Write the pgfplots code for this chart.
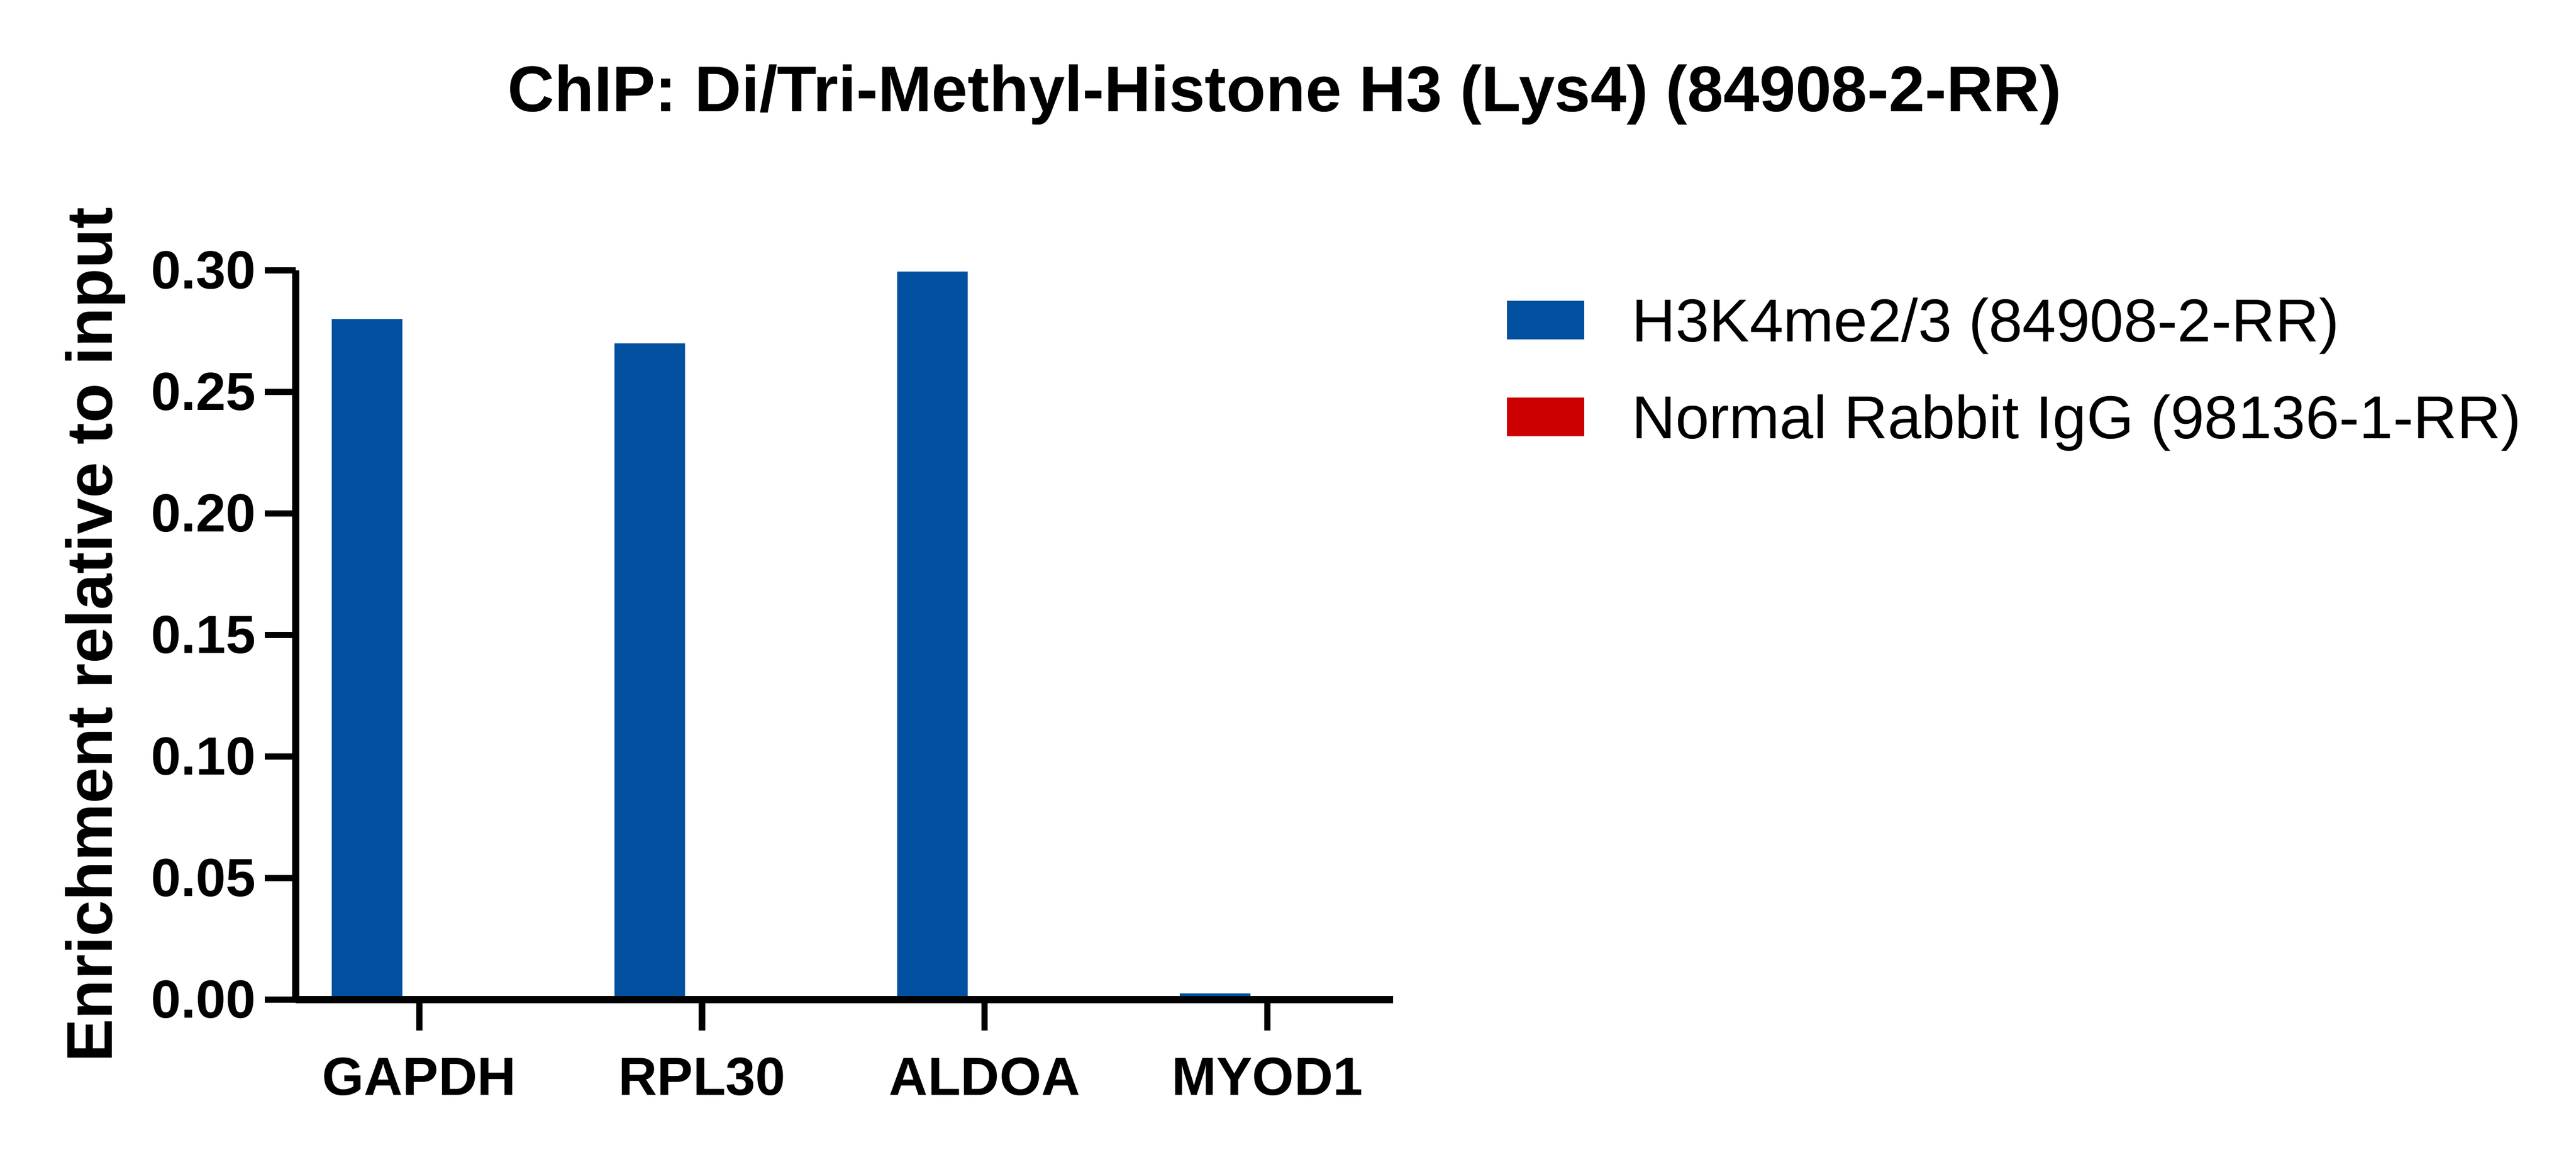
\documentclass[border=0pt]{standalone}
\usepackage{fontspec}
\setmainfont{Liberation Sans}
\usepackage{pgfplots}
\pgfplotsset{compat=1.18}

\definecolor{h3blue}{RGB}{2,80,160}
\definecolor{iggred}{RGB}{204,0,0}

\begin{document}
\begin{tikzpicture}
\useasboundingbox (0,0) rectangle (15.68cm,7.0cm);

% title, centred over the whole figure
\node[anchor=base, font=\fontsize{11.2}{13}\selectfont\bfseries]
  at (7.82cm,6.322cm) {ChIP: Di/Tri-Methyl-Histone H3 (Lys4) (84908-2-RR)};

\begin{axis}[
    at={(1.80cm,0.913cm)}, anchor=south west,
    width=6.68cm, height=4.441cm, scale only axis,
    xmin=-0.437, xmax=3.445,
    ymin=0, ymax=0.30,
    axis x line*=bottom, axis y line*=left,
    tick pos=left,
    axis line style={line width=1.2pt, black},
    tick style={line width=1.1pt, black},
    tick align=outside,
    major tick length=0.188cm,
    axis on top,
    ybar, bar width=0.43cm,
    xtick={0,1,2,3},
    xticklabels={GAPDH,RPL30,ALDOA,MYOD1},
    ytick={0,0.05,0.10,0.15,0.20,0.25,0.30},
    yticklabel={\pgfmathprintnumber[fixed,fixed zerofill,precision=2]{\tick}},
    /pgf/number format/assume math mode=true,
    ticklabel style={font=\fontsize{9.3}{11}\selectfont\bfseries},
    xticklabel style={yshift=-0.04cm},
    yticklabel style={inner xsep=1.4pt},
    ylabel={Enrichment relative to input},
    ylabel style={at={(rel axis cs:-0.1825,0.5)}, anchor=center,
                  font=\fontsize{11.2}{13}\selectfont\bfseries},
    legend style={draw=none, fill=none, at={(rel axis cs:1.1037,0.9617)},
                  anchor=north west, inner sep=0pt, outer sep=0pt,
                  font=\fontsize{10.5}{12}\selectfont, row sep=0.328cm,
                  nodes={inner sep=0pt, text height=7.5pt, text depth=0pt},
                  /tikz/every odd column/.append style={column sep=0.29cm}},
    legend cell align=left,
    legend image code/.code={\fill[#1] (0cm,-0.1175cm) rectangle (0.47cm,0.1175cm);},
]

% H3K4me2/3
\addplot[fill=h3blue, draw=none, bar shift=-0.318cm] coordinates {
    (0,0.280) (1,0.270) (2,0.2995) (3,0.0026)
};

% Normal Rabbit IgG (near zero, hidden by the axis line)
\addplot[fill=iggred, draw=none, bar shift=0.318cm] coordinates {
    (0,0.0004) (1,0.0003) (2,0.0004) (3,0.0002)
};

\legend{H3K4me2/3 (84908-2-RR), Normal Rabbit IgG (98136-1-RR)}

\end{axis}
\end{tikzpicture}
\end{document}
